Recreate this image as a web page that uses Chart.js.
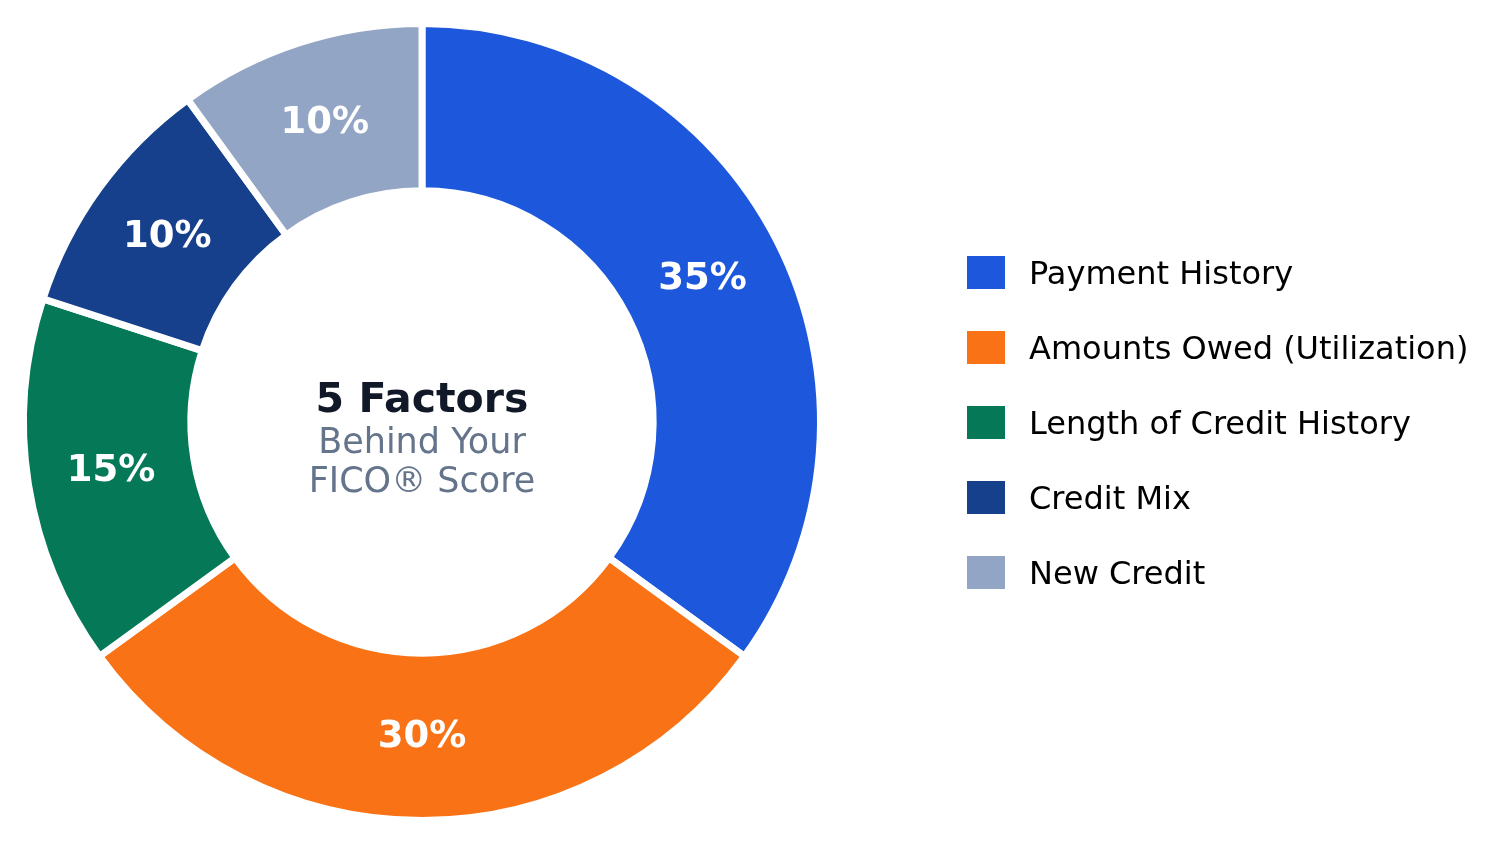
<!DOCTYPE html>
<html>
<head>
<meta charset="utf-8">
<script src="https://cdn.jsdelivr.net/npm/chart.js@4.4.1/dist/chart.umd.min.js"></script>
<style>
  html, body { margin: 0; padding: 0; background: #ffffff; }
  #wrap { width: 1485px; height: 845px; }
</style>
</head>
<body>
<div id="wrap"><canvas id="fico"></canvas></div>
<script>
// FICO score factors (percent of score)
const factorLabels = [
    'Payment History',
    'Amounts Owed (Utilization)',
    'Length of Credit History',
    'Credit Mix',
    'New Credit'
];
const factorShares = [35, 30, 15, 10, 10];
const factorColors = ['#1c57dc', '#f97316', '#047857', '#16408c', '#93a5c4'];
const centerTitle = '5 Factors';
const centerLines = ['Behind Your', 'FICO® Score'];

const FONT = '"DejaVu Sans", Verdana, sans-serif';

// percentage text on each slice
const sliceLabels = {
    id: 'sliceLabels',
    afterDatasetsDraw(chart) {
        const ctx = chart.ctx;
        const meta = chart.getDatasetMeta(0);
        ctx.save();
        ctx.fillStyle = '#ffffff';
        ctx.font = 'bold 37px ' + FONT;
        ctx.textAlign = 'center';
        ctx.textBaseline = 'alphabetic';
        meta.data.forEach((arc, i) => {
            const p = arc.getCenterPoint();
            ctx.fillText(factorShares[i] + '%', p.x, p.y + 10);
        });
        ctx.restore();
    }
};

// title in the hole of the doughnut
const centerText = {
    id: 'centerText',
    afterDraw(chart) {
        const ctx = chart.ctx;
        const arc = chart.getDatasetMeta(0).data[0];
        const cx = arc.x, cy = arc.y;
        ctx.save();
        ctx.textAlign = 'center';
        ctx.textBaseline = 'alphabetic';
        ctx.fillStyle = '#111827';
        ctx.font = 'bold 41px ' + FONT;
        ctx.fillText(centerTitle, cx, cy - 10);
        ctx.fillStyle = '#64748b';
        ctx.font = '35px ' + FONT;
        ctx.fillText(centerLines[0], cx, cy + 31);
        ctx.fillText(centerLines[1], cx, cy + 70);
        ctx.restore();
    }
};

// legend on the right, drawn from the chart's own data
const sideLegend = {
    id: 'sideLegend',
    afterDraw(chart) {
        const ctx = chart.ctx;
        const ds = chart.data.datasets[0];
        const x0 = 967, y0 = 272.5, step = 75;
        ctx.save();
        ctx.font = '32px ' + FONT;
        ctx.textAlign = 'left';
        ctx.textBaseline = 'alphabetic';
        chart.data.labels.forEach((lab, i) => {
            const y = y0 + i * step;
            ctx.fillStyle = ds.backgroundColor[i];
            ctx.fillRect(x0, y - 16.5, 38, 33);
            ctx.fillStyle = '#000000';
            ctx.fillText(lab, 1029, y + 11);
        });
        ctx.restore();
    }
};

new Chart(document.getElementById('fico'), {
    type: 'doughnut',
    data: {
        labels: factorLabels,
        datasets: [{
            data: factorShares,
            backgroundColor: factorColors,
            borderColor: '#ffffff',
            borderWidth: 7,
            hoverOffset: 0
        }]
    },
    options: {
        responsive: true,
        maintainAspectRatio: false,
        animation: false,
        cutout: '58%',
        layout: {
            padding: { left: 20, right: 661, top: 20, bottom: 21 }
        },
        plugins: {
            legend: { display: false },
            tooltip: { enabled: false }
        }
    },
    plugins: [sliceLabels, centerText, sideLegend]
});
</script>
</body>
</html>
